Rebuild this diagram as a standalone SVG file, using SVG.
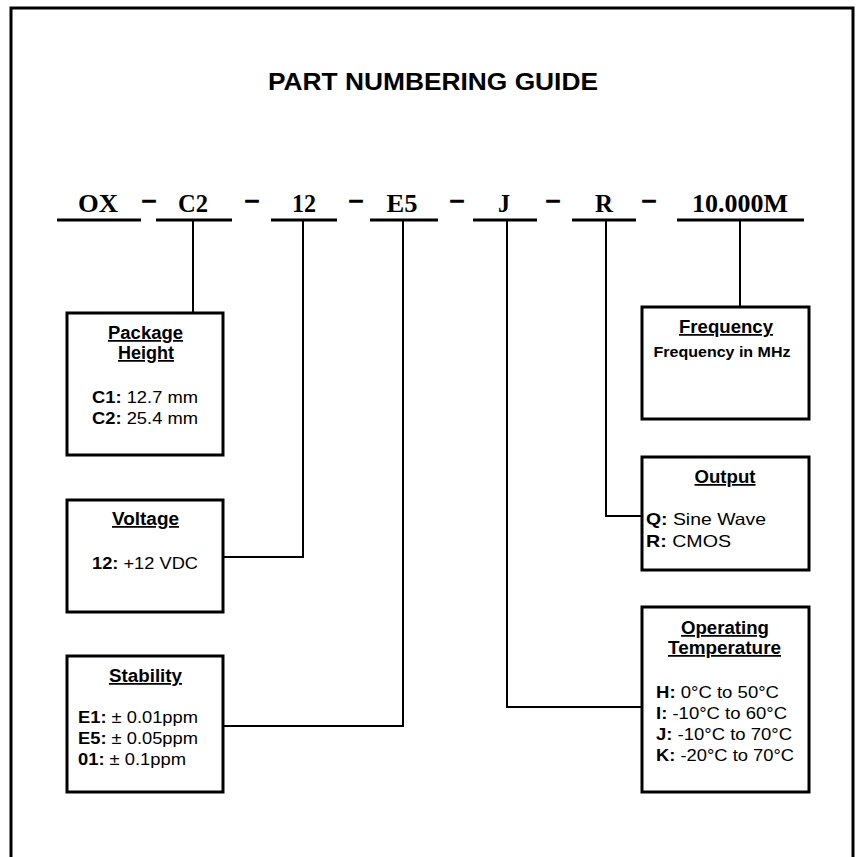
<svg xmlns="http://www.w3.org/2000/svg" width="861" height="857" viewBox="0 0 861 857">
<style>
.bg{fill:#fff}
.frame{fill:none;stroke:#000;stroke-width:3}
.box{fill:#fff;stroke:#000;stroke-width:3}
.ul{stroke:#000;stroke-width:3}
.conn{fill:none;stroke:#000;stroke-width:2}
.title{font-family:"Liberation Sans",Arial,sans-serif;font-weight:bold;font-size:24px;text-anchor:middle}
.pn{font-family:"Liberation Serif","Times New Roman",serif;font-weight:bold;font-size:25px;text-anchor:middle}
.dash{font-family:"Liberation Serif","Times New Roman",serif;font-weight:bold;font-size:24px;text-anchor:middle;stroke:#000;stroke-width:1.4}
.bt{font-family:"Liberation Sans",Arial,sans-serif;font-weight:bold;font-size:17.5px;text-anchor:middle;text-decoration:underline}
.tx{font-family:"Liberation Sans",Arial,sans-serif;font-size:16.5px}
.b{font-weight:bold}
.sm{font-family:"Liberation Sans",Arial,sans-serif;font-weight:bold;font-size:14px;text-anchor:middle}
</style>
<rect class="bg" x="0" y="0" width="861" height="857"/>
<path class="frame" d="M11,857 V8 H853 V857"/>
<text class="title" x="433" y="90" textLength="330" lengthAdjust="spacingAndGlyphs">PART NUMBERING GUIDE</text>

<g id="partnumber">
<text class="pn" x="98" y="212" textLength="40" lengthAdjust="spacingAndGlyphs">OX</text>
<text class="pn" x="193" y="212" textLength="30" lengthAdjust="spacingAndGlyphs">C2</text>
<text class="pn" x="304" y="212" textLength="24" lengthAdjust="spacingAndGlyphs">12</text>
<text class="pn" x="402" y="212" textLength="31" lengthAdjust="spacingAndGlyphs">E5</text>
<text class="pn" x="504" y="212" textLength="12" lengthAdjust="spacingAndGlyphs">J</text>
<text class="pn" x="604" y="212" textLength="18" lengthAdjust="spacingAndGlyphs">R</text>
<text class="pn" x="740" y="212" textLength="96" lengthAdjust="spacingAndGlyphs">10.000M</text>
<text class="dash" x="149" y="207">–</text>
<text class="dash" x="252" y="207">–</text>
<text class="dash" x="356" y="207">–</text>
<text class="dash" x="457" y="207">–</text>
<text class="dash" x="553" y="207">–</text>
<text class="dash" x="649" y="207">–</text>
<line class="ul" x1="57" y1="220" x2="141" y2="220"/>
<line class="ul" x1="156" y1="220" x2="232" y2="220"/>
<line class="ul" x1="271" y1="220" x2="337" y2="220"/>
<line class="ul" x1="370" y1="220" x2="438" y2="220"/>
<line class="ul" x1="473" y1="220" x2="537" y2="220"/>
<line class="ul" x1="572" y1="220" x2="636" y2="220"/>
<line class="ul" x1="677" y1="220" x2="804" y2="220"/>
</g>

<g id="connectors">
<path class="conn" d="M193,221 V313"/>
<path class="conn" d="M303,221 V557 H223"/>
<path class="conn" d="M403,221 V726 H223"/>
<path class="conn" d="M507,221 V707 H642"/>
<path class="conn" d="M606,221 V516 H642"/>
<path class="conn" d="M740,221 V307"/>
</g>

<g id="package-height">
<rect class="box" x="67" y="313" width="156" height="142"/>
<text class="bt" x="145.5" y="339" textLength="75" lengthAdjust="spacingAndGlyphs">Package</text>
<text class="bt" x="146" y="359" textLength="56" lengthAdjust="spacingAndGlyphs">Height</text>
<text class="tx" x="92" y="403" textLength="106" lengthAdjust="spacingAndGlyphs"><tspan class="b">C1:</tspan> 12.7 mm</text>
<text class="tx" x="92" y="424" textLength="106" lengthAdjust="spacingAndGlyphs"><tspan class="b">C2:</tspan> 25.4 mm</text>
</g>

<g id="voltage">
<rect class="box" x="67" y="500" width="156" height="112"/>
<text class="bt" x="145.5" y="525" textLength="67" lengthAdjust="spacingAndGlyphs">Voltage</text>
<text class="tx" x="92" y="569" textLength="106" lengthAdjust="spacingAndGlyphs"><tspan class="b">12:</tspan> +12 VDC</text>
</g>

<g id="stability">
<rect class="box" x="67" y="656" width="156" height="136"/>
<text class="bt" x="145.5" y="682" textLength="73" lengthAdjust="spacingAndGlyphs">Stability</text>
<text class="tx" x="78" y="723" textLength="120" lengthAdjust="spacingAndGlyphs"><tspan class="b">E1:</tspan> ± 0.01ppm</text>
<text class="tx" x="78" y="744" textLength="120" lengthAdjust="spacingAndGlyphs"><tspan class="b">E5:</tspan> ± 0.05ppm</text>
<text class="tx" x="78" y="765" textLength="108" lengthAdjust="spacingAndGlyphs"><tspan class="b">01:</tspan> ± 0.1ppm</text>
</g>

<g id="frequency">
<rect class="box" x="642" y="307" width="167" height="112"/>
<text class="bt" x="726" y="333" textLength="94" lengthAdjust="spacingAndGlyphs">Frequency</text>
<text class="sm" x="722" y="357" textLength="137" lengthAdjust="spacingAndGlyphs">Frequency in MHz</text>
</g>

<g id="output">
<rect class="box" x="642" y="457" width="167" height="113"/>
<text class="bt" x="725" y="483" textLength="61" lengthAdjust="spacingAndGlyphs">Output</text>
<text class="tx" x="646" y="525" textLength="120" lengthAdjust="spacingAndGlyphs"><tspan class="b">Q:</tspan> Sine Wave</text>
<text class="tx" x="646" y="547" textLength="85" lengthAdjust="spacingAndGlyphs"><tspan class="b">R:</tspan> CMOS</text>
</g>

<g id="operating-temperature">
<rect class="box" x="642" y="607" width="167" height="185"/>
<text class="bt" x="725" y="634" textLength="88" lengthAdjust="spacingAndGlyphs">Operating</text>
<text class="bt" x="724.5" y="654" textLength="113" lengthAdjust="spacingAndGlyphs">Temperature</text>
<text class="tx" x="656" y="698" textLength="123" lengthAdjust="spacingAndGlyphs"><tspan class="b">H:</tspan> 0°C to 50°C</text>
<text class="tx" x="656" y="719" textLength="131" lengthAdjust="spacingAndGlyphs"><tspan class="b">I:</tspan> -10°C to 60°C</text>
<text class="tx" x="656" y="740" textLength="136" lengthAdjust="spacingAndGlyphs"><tspan class="b">J:</tspan> -10°C to 70°C</text>
<text class="tx" x="656" y="761" textLength="138" lengthAdjust="spacingAndGlyphs"><tspan class="b">K:</tspan> -20°C to 70°C</text>
</g>
</svg>
